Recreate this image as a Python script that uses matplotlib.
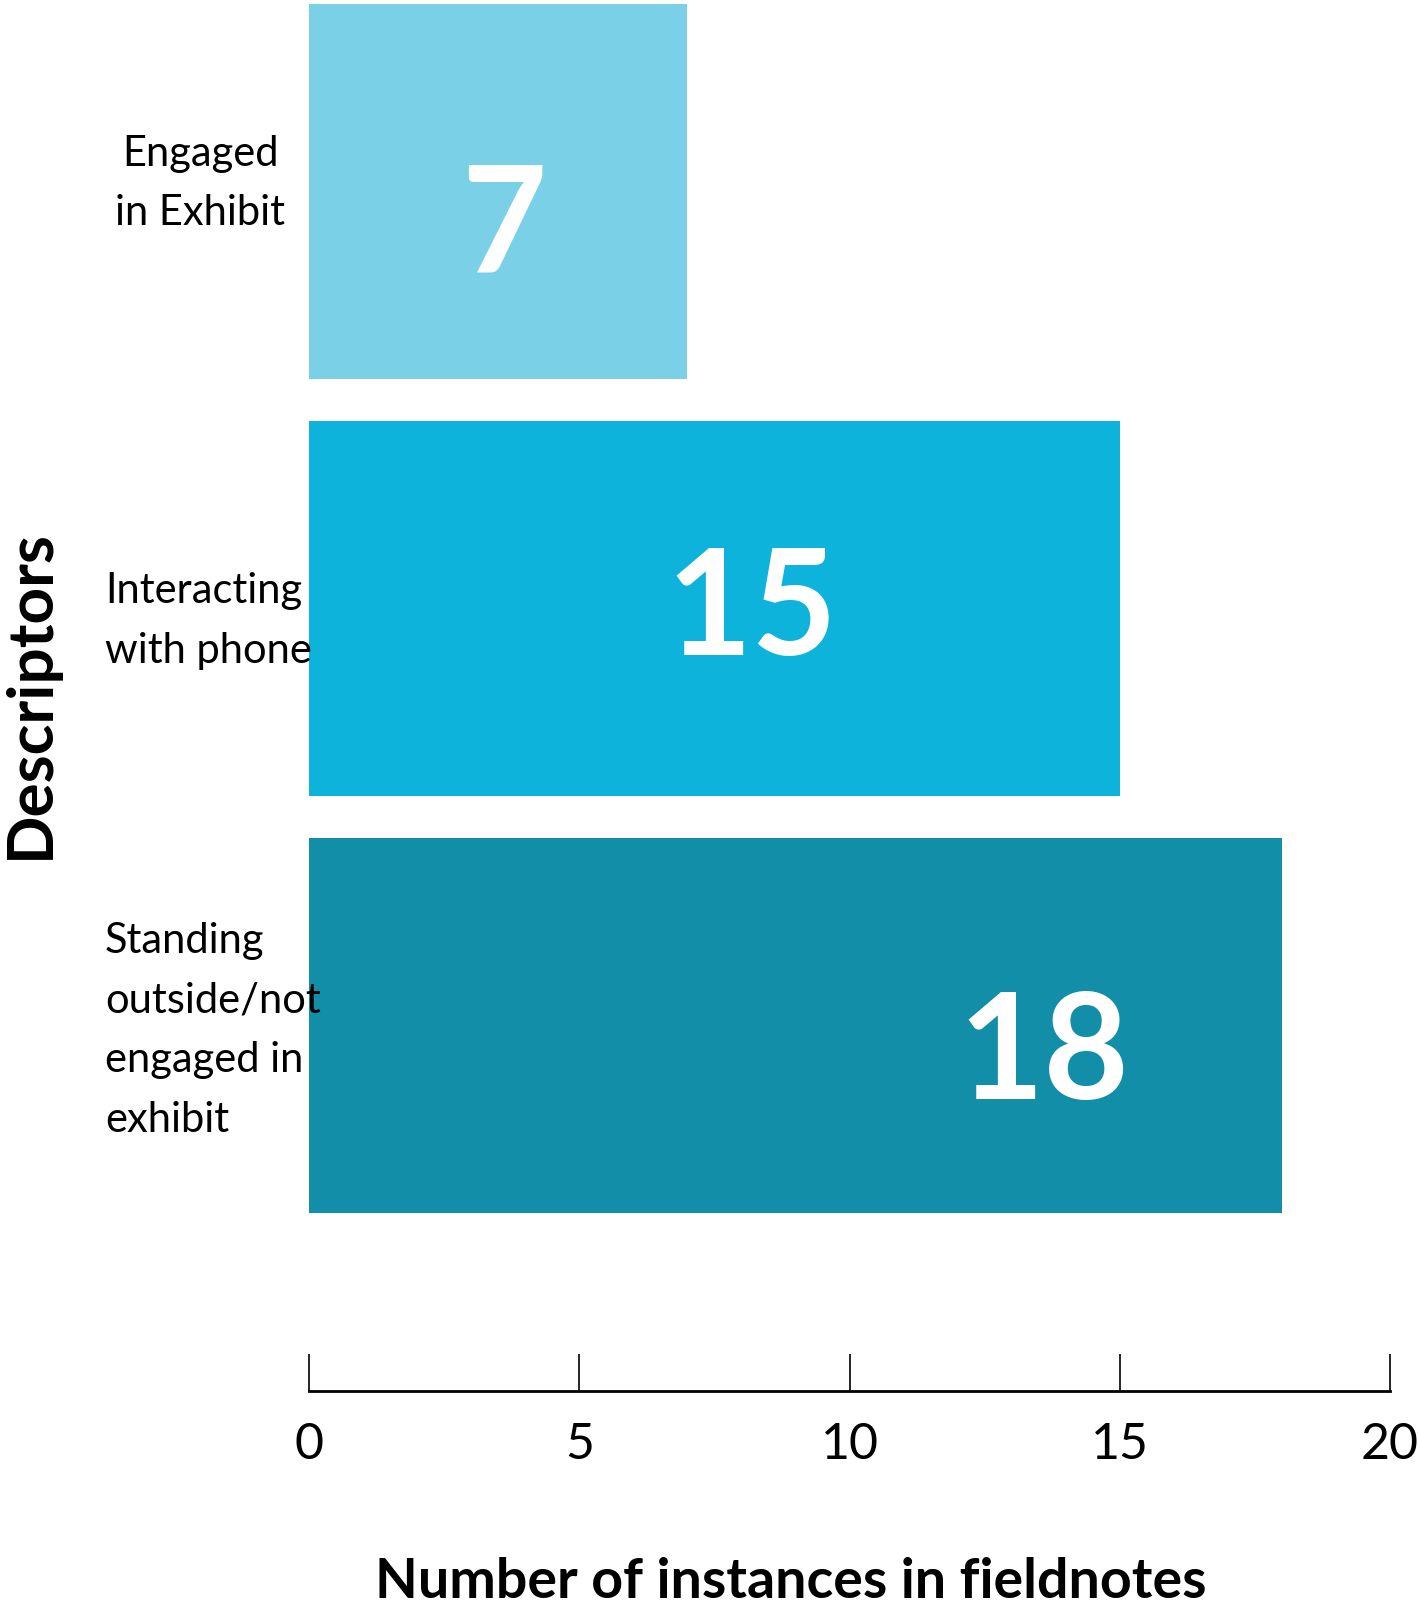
import matplotlib
matplotlib.use("Agg")
import matplotlib.pyplot as plt
import matplotlib.transforms as mtransforms

plt.rcParams['font.family'] = ['Lato', 'DejaVu Sans']

categories = ['Engaged\nin Exhibit', 'Interacting\nwith phone',
              'Standing\noutside/not\nengaged in\nexhibit']
counts = [7, 15, 18]
bar_colors = ['#7AD0E6', '#0DB3DA', '#138EA9']
xticks = [0, 5, 10, 15, 20]

# where the big value numbers sit inside the bars (data x, y offset)
value_label_x = [3.6, 8.2, 13.6]
value_label_dy = [0.09, 0.01, 0.075]

fig = plt.figure(figsize=(14.18, 16.11), dpi=100)
ax = fig.add_axes([309 / 1418, 1 - 1391 / 1611, (1390 - 309) / 1418, 1391 / 1611])

ypos = list(range(len(categories)))
ax.barh(ypos, counts, height=0.9, color=bar_colors, edgecolor='none')

ax.set_xlim(0, 20)
ax.set_ylim(2.878, -0.46)
ax.set_xticks(xticks)
ax.set_xticklabels([str(t) for t in xticks])
ax.set_yticks([])

for s in ['left', 'top', 'right']:
    ax.spines[s].set_visible(False)
ax.spines['bottom'].set_linewidth(2.0)

ax.tick_params(axis='x', direction='in', length=27, width=1.2, pad=22,
               labelsize=36)

for y, v, lx, dy in zip(ypos, counts, value_label_x, value_label_dy):
    ax.text(lx, y + dy, str(v), ha='center', va='center', color='white',
            fontsize=106, fontweight='bold')

# category labels: top one centred, the rest left aligned
label_dy = [-0.02, 0.03, 0.012]
trans = mtransforms.blended_transform_factory(fig.transFigure, ax.transData)
for y, cat, dy in zip(ypos, categories, label_dy):
    if y == 0:
        ax.text(200 / 1418, y + dy, cat, transform=trans, ha='center',
                va='center', fontsize=30, linespacing=1.7)
    else:
        ax.text(105 / 1418, y + dy, cat, transform=trans, ha='left',
                va='center', fontsize=30, linespacing=1.7)

fig.text(791 / 1418, 1 - 1582 / 1611, 'Number of instances in fieldnotes',
         ha='center', va='center', fontsize=40, fontweight='bold')
fig.text(30 / 1418, 1 - 694 / 1611, 'Descriptors', rotation=90,
         ha='center', va='center', fontsize=46, fontweight='bold')

fig.savefig('out.png', dpi=100)
